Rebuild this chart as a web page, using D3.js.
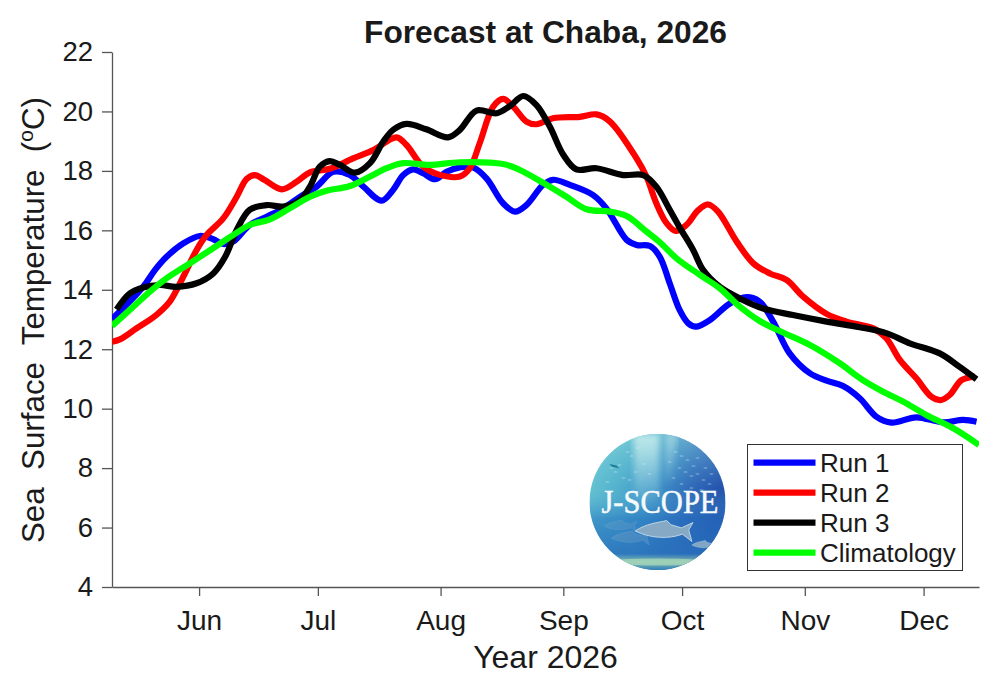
<!DOCTYPE html>
<html><head><meta charset="utf-8">
<script src="https://cdn.jsdelivr.net/npm/d3@7"></script>
<style>html,body{margin:0;padding:0;background:#fff}svg{display:block}text{font-family:"Liberation Sans",Arial,sans-serif;fill:#1a1a1a}</style>
</head><body>
<svg id="c" width="1000" height="689"></svg>
<script>
const titleText = "Forecast at Chaba, 2026";
const xLabel = "Year 2026";
const monthTicks = ["2026-06-01","2026-07-01","2026-08-01","2026-09-01","2026-10-01","2026-11-01","2026-12-01"];
const yTicks = [4,6,8,10,12,14,16,18,20,22];
const seriesNames = ["Run 1","Run 2","Run 3","Climatology"];
const seriesColors = ["#0000ff","#ff0000","#000000","#00ff00"];

// days after 10 May 2026
const run1Days = [0,7.9,10.9,13.8,18,22.2,25.6,28.1,30.6,34.8,39.1,43.3,47.5,51.7,55.9,60.1,63.5,68.1,71,73.6,76.1,78.6,81.6,84.5,87.9,91.2,94.6,98.8,101.8,104.7,108.9,111.4,115.7,121.5,124.9,130,132.5,135.9,138.4,140.9,143.4,145.5,147.5,151,156.1,160.3,163.6,167,171.2,176.3,180.5,184.7,188.9,193.1,196.9,203.2,209.9,215,218.4];
const run1Values = [13.01,14.10,14.67,15.11,15.56,15.81,15.70,15.54,15.62,16.18,16.46,16.74,17.13,17.47,17.97,17.86,17.47,17.0,17.36,17.86,18.05,17.92,17.72,17.97,18.12,18.12,17.75,16.91,16.63,16.85,17.53,17.70,17.53,17.19,16.74,15.68,15.51,15.47,15.11,14.22,13.32,12.88,12.76,12.98,13.54,13.75,13.6,12.93,11.86,11.19,10.94,10.76,10.35,9.73,9.53,9.71,9.54,9.62,9.56];
const run2Days = [0,2,6.2,11.2,14.6,18,21.4,23.9,28.1,31.5,34,36.1,38.6,42.9,46.7,50,55,60.9,66,71.9,74.4,78.6,82,87.9,90.4,92.9,96.3,98.8,101.4,104.7,107.2,111.4,118.2,122.4,125.8,132.5,135,137.5,140.1,142.4,145.1,148.1,150.6,153.1,157.8,162,166.2,170.4,174.6,180.5,185.5,192.3,195.6,199,203.2,207,209.3,211.6,214.6,218];
const run2Values = [12.25,12.33,12.70,13.15,13.60,14.44,15.34,15.84,16.40,17.13,17.73,17.86,17.69,17.38,17.64,17.95,18.07,18.42,18.70,19.13,18.87,18.14,17.90,17.81,18.09,18.93,20.16,20.42,20.16,19.66,19.57,19.77,19.82,19.90,19.66,18.42,17.81,16.91,16.24,15.98,16.18,16.68,16.87,16.63,15.62,14.89,14.55,14.33,13.77,13.19,12.93,12.70,12.37,11.64,11.02,10.40,10.29,10.46,10.96,11.08];
const run3Days = [1.2,4.5,7.9,12.1,16.3,21.4,25.6,28.6,31.5,34.8,39.1,43.3,47.5,50,52.5,55,57.6,61.4,65.2,68.5,71,74.4,79.4,84.9,87.9,92.1,97.2,100.5,103.9,107.2,110.6,114,117.3,122.4,129.1,134.2,137.5,140.9,143.4,146.8,149.3,153.5,158.6,164.5,172,180.5,188.9,195.6,201.5,209.1,214.1,218.4];
const run3Values = [13.34,13.88,14.08,14.16,14.10,14.22,14.55,15.11,16.01,16.69,16.85,16.80,17.02,17.47,18.14,18.33,18.2,17.94,18.26,18.98,19.38,19.58,19.40,19.13,19.38,20.03,19.94,20.18,20.52,20.22,19.49,18.54,18.05,18.09,17.86,17.86,17.47,16.69,16.1,15.34,14.67,14.10,13.71,13.37,13.15,12.93,12.74,12.54,12.20,11.86,11.41,10.99];
const climDays = [0,5.4,9.6,13.8,19.7,25.6,30.6,34.8,39.9,44.9,50,54.2,60.1,65.2,69.4,73.6,80.3,87.9,98.8,103,109.8,114.8,119.9,125.8,130,135,138.4,142.6,148.5,153.5,158.6,163.6,169.5,176.3,183.8,189.7,194.8,199.8,205.7,212.5,219];
const climValues = [12.78,13.43,13.94,14.39,14.89,15.40,15.84,16.18,16.37,16.74,17.13,17.33,17.49,17.81,18.09,18.26,18.20,18.29,18.23,18.03,17.53,17.13,16.71,16.63,16.48,15.96,15.6,15.06,14.50,14.05,13.43,12.95,12.56,12.14,11.53,10.96,10.57,10.24,9.79,9.34,8.78];

const seriesDays = [run1Days,run2Days,run3Days,climDays];
const seriesValues = [run1Values,run2Values,run3Values,climValues];

const parse = d3.utcParse("%Y-%m-%d");
const base = parse("2026-05-10");
const x = d3.scaleUtc().domain([base, parse("2026-12-15")]).range([112,979]);
const y = d3.scaleLinear().domain([4,22]).range([587,52]);
const svg = d3.select("#c");
const axisColor = "#555";
const defs = svg.append("defs");

// axes
const ya = d3.axisLeft(y).tickValues(yTicks).tickSize(10).tickSizeOuter(0).tickPadding(9).tickFormat(d3.format("d"));
const yg = svg.append("g").attr("transform","translate(112,0)").call(ya);
const xa = d3.axisBottom(x).tickValues(monthTicks.map(parse)).tickSize(9).tickSizeOuter(0).tickPadding(14).tickFormat(d3.utcFormat("%b"));
const xg = svg.append("g").attr("transform","translate(0,587)").call(xa);
[yg,xg].forEach(g=>{
  g.selectAll("path.domain").attr("stroke",axisColor).attr("stroke-width",1.3);
  g.selectAll("line").attr("stroke",axisColor).attr("stroke-width",1.3);
  g.selectAll("text").attr("fill","#1a1a1a").style("font-family",'"Liberation Sans"');
});
yg.selectAll("text").attr("font-size",27.5);
xg.selectAll("text").attr("font-size",28).attr("dy","0.72em");
svg.append("text").attr("x",545.5).attr("y",668).attr("text-anchor","middle").attr("font-size",32).text(xLabel);
svg.append("text").attr("x",545.5).attr("y",43).attr("text-anchor","middle").attr("font-size",31.7).attr("font-weight","bold").text(titleText);
const yl = svg.append("text").attr("transform","translate(44,320) rotate(-90)").attr("text-anchor","middle").attr("font-size",31.3).style("white-space","pre");
yl.append("tspan").text("Sea  Surface  Temperature  (");
yl.append("tspan").attr("dy",-11).attr("font-size",21).text("o");
yl.append("tspan").attr("dy",11).text("C)");

// lines
const line = d3.line().x(d=>x(d3.utcHour.offset(base,d[0]*24))).y(d=>y(d[1])).curve(d3.curveCatmullRom.alpha(0.5));
defs.append("clipPath").attr("id","plot2").append("rect").attr("x",112).attr("y",40).attr("width",867).attr("height",547);
const plot = svg.append("g").attr("clip-path","url(#plot2)");
seriesNames.forEach((n,i)=>{
  plot.append("path").datum(d3.zip(seriesDays[i],seriesValues[i])).attr("d",line)
    .attr("fill","none").attr("stroke",seriesColors[i]).attr("stroke-width",6.2);
});

// logo
const lx=657.5, ly=502, lr=68;
const g1 = defs.append("linearGradient").attr("id","sea").attr("x1",0).attr("y1",0).attr("x2",1).attr("y2",0.25);
[[0,"#6fcbd2"],[0.28,"#4fb0cc"],[0.55,"#3a8fc6"],[0.78,"#2a62b6"],[1,"#1c46a8"]].forEach(s=>g1.append("stop").attr("offset",s[0]).attr("stop-color",s[1]));
const g2 = defs.append("linearGradient").attr("id","depth").attr("x1",0).attr("y1",0).attr("x2",0).attr("y2",1);
[[0,"#9be4e0",0.5],[0.4,"#6cc0d8",0.1],[0.62,"#2a78c2",0.55],[0.88,"#2a72bc",0.85],[0.94,"#8cc4b0",0.95],[1,"#2f80b8",0.9]].forEach(s=>g2.append("stop").attr("offset",s[0]).attr("stop-color",s[1]).attr("stop-opacity",s[2]));
const g3 = defs.append("linearGradient").attr("id","ray").attr("x1",0).attr("y1",0).attr("x2",0).attr("y2",1);
[[0,"#d4f4f0",0.8],[1,"#d4f4f0",0]].forEach(s=>g3.append("stop").attr("offset",s[0]).attr("stop-color",s[1]).attr("stop-opacity",s[2]));
defs.append("filter").attr("id","soft").append("feGaussianBlur").attr("stdDeviation",3);
defs.append("filter").attr("id","soft2").append("feGaussianBlur").attr("stdDeviation",0.5);
defs.append("clipPath").attr("id","logoClip").append("circle").attr("cx",lx).attr("cy",ly).attr("r",lr);
const logo = svg.append("g").attr("clip-path","url(#logoClip)");
logo.append("rect").attr("x",lx-lr).attr("y",ly-lr).attr("width",2*lr).attr("height",2*lr).attr("fill","url(#sea)");
logo.append("rect").attr("x",lx-lr).attr("y",ly-lr).attr("width",2*lr).attr("height",2*lr).attr("fill","url(#depth)");
logo.append("path").attr("d",`M${lx-24},${ly-lr}L${lx+2},${ly-lr}L${lx+2},${ly+5}L${lx-22},${ly+5}Z`).attr("fill","url(#ray)").attr("filter","url(#soft)");
logo.append("path").attr("d",`M${lx+8},${ly-lr}L${lx+20},${ly-lr}L${lx+14},${ly-15}L${lx+6},${ly-15}Z`).attr("fill","url(#ray)").attr("opacity",0.6).attr("filter","url(#soft)");
// school of small fish, upper part and behind the text
const specks = [[-46,-34],[-42,-30],[-38,-37],[-30,-50],[-26,-46],[-20,-54],[-34,-24],[-28,-22],[-22,-30],[-50,-20],[18,-50],[24,-46],[30,-42],[36,-36],[22,-34],[28,-30],[34,-26],[40,-28],[46,-22],[52,-18],[16,-24],[24,-18],[34,-14],[44,-12],[12,-40],[-14,-38],[-8,-28],[40,-44],[48,-34],[54,-28]];
logo.selectAll("ellipse.speck").data(specks).join("ellipse").attr("class","speck")
  .attr("cx",d=>lx+d[0]).attr("cy",d=>ly+d[1]).attr("rx",2.2).attr("ry",0.8)
  .attr("fill","#d6eef2").attr("opacity",0.4);
logo.append("path").attr("d",`M${lx-48},${ly-38}l7,1.5l3,3l-8,-2z`).attr("fill","#1f7f98");
logo.append("ellipse").attr("cx",lx).attr("cy",ly+60).attr("rx",52).attr("ry",3.5).attr("fill","#a9d8b8").attr("opacity",0.75).attr("filter","url(#soft2)");
const fish = (fx,fy,s,op)=>logo.append("path").attr("transform",`translate(${fx},${fy}) scale(${s})`)
  .attr("d","M-26,0C-16,-7 -4,-8 4,-10L8,-6L18,-3L29,-8L25,-1L28,10L19,3C6,8 -12,7 -26,0Z")
  .attr("fill","#86a9c6").attr("stroke","#dcebf2").attr("stroke-width",0.7).attr("opacity",op);
fish(lx-28,ly+36,0.7,0.28);
fish(lx-38,ly+24,0.6,0.22);
fish(lx+5,ly+29,1.05,1);
fish(lx+46,ly+43,0.45,0.95);
logo.append("text").attr("x",lx+2.5).attr("y",ly+11).attr("text-anchor","middle")
  .attr("textLength",117).attr("lengthAdjust","spacingAndGlyphs")
  .style("font-family",'"Liberation Serif"').style("fill","#f6fafb").style("stroke","#f6fafb").style("stroke-width",0.5).attr("font-size",33).text("J-SCOPE");

// legend
const lg = svg.append("g");
lg.append("rect").attr("x",747.5).attr("y",444.5).attr("width",215).attr("height",126).attr("fill","#fff").attr("stroke","#333").attr("stroke-width",1);
const rowY = d3.scalePoint().domain(seriesNames).range([462.7,552.7]);
seriesNames.forEach((n,i)=>{
  lg.append("line").attr("x1",753.5).attr("x2",815.5).attr("y1",rowY(n)).attr("y2",rowY(n)).attr("stroke",seriesColors[i]).attr("stroke-width",6.2);
  lg.append("text").attr("x",820).attr("y",rowY(n)+9.3).attr("font-size",26).text(n);
});
</script>
</body></html>
